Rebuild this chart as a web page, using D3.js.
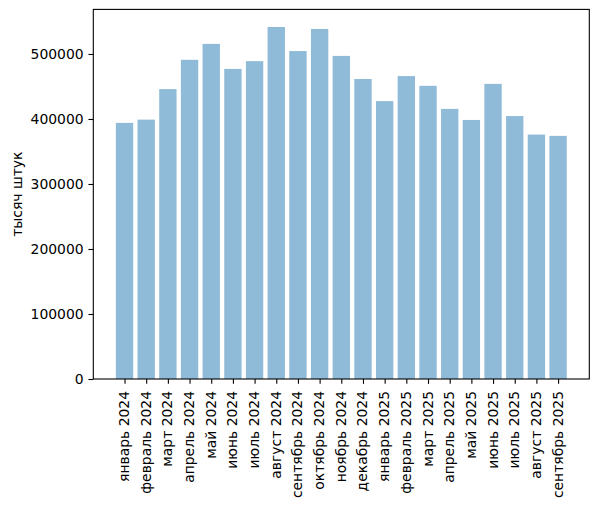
<!DOCTYPE html>
<html>
<head>
<meta charset="utf-8">
<script src="https://cdn.jsdelivr.net/npm/d3@7"></script>
<style>
  html, body { margin: 0; padding: 0; background: #fff; }
  svg { display: block; }
  svg text { font-family: "DejaVu Sans", sans-serif; }
</style>
</head>
<body>
<svg id="chart" width="598" height="506"></svg>
<script>
const categories = [
  "январь 2024", "февраль 2024", "март 2024", "апрель 2024", "май 2024",
  "июнь 2024", "июль 2024", "август 2024", "сентябрь 2024", "октябрь 2024",
  "ноябрь 2024", "декабрь 2024", "январь 2025", "февраль 2025", "март 2025",
  "апрель 2025", "май 2025", "июнь 2025", "июль 2025", "август 2025", "сентябрь 2025"
];
const values = [
  394000, 399000, 446000, 491000, 515500,
  477000, 489000, 541500, 504500, 538500,
  497000, 461500, 427500, 466000, 451000,
  415500, 398500, 454000, 404500, 376000, 374000
];
const yTicks = [0, 100000, 200000, 300000, 400000, 500000];
const yLabel = "тысяч штук";

(function () {
const svg = d3.select("#chart");
const mL = 93.3, mR = 589.3, mT = 9.4, mB = 379;
const n = categories.length;
const barW = 0.8;
const span = (n - 1) + barW;
const x = d3.scaleLinear()
  .domain([-barW / 2 - 0.05 * span, (n - 1) + barW / 2 + 0.05 * span])
  .range([mL, mR]);
const y = d3.scaleLinear()
  .domain([0, d3.max(values) * 1.05])
  .range([mB, mT]);

// bars
svg.append("g").selectAll("rect")
  .data(values)
  .join("rect")
  .attr("x", (d, i) => x(i - barW / 2))
  .attr("width", (d, i) => x(i + barW / 2) - x(i - barW / 2))
  .attr("y", d => y(d))
  .attr("height", d => y(0) - y(d))
  .attr("fill", "#1f77b4")
  .attr("fill-opacity", 0.5);

// x axis
const xAxis = d3.axisBottom(x)
  .tickValues(d3.range(n))
  .tickFormat(i => categories[i])
  .tickSize(4.86)
  .tickPadding(4.86);
const gx = svg.append("g")
  .attr("transform", `translate(0,${mB})`)
  .call(xAxis);
gx.attr("font-family", null).attr("font-size", null);
gx.select(".domain").remove();
gx.selectAll(".tick line").attr("stroke", "#000").attr("stroke-width", 1.1);
gx.selectAll(".tick text")
  .attr("fill", "#000")
  .style("font-size", "13.9px")
  .style("font-family", "'DejaVu Sans', sans-serif")
  .attr("text-anchor", "end")
  .attr("dy", null)
  .attr("dominant-baseline", "central")
  .attr("transform", "translate(-1,12) rotate(-90)")
  .attr("x", 0)
  .attr("y", 0);

// y axis
const yAxis = d3.axisLeft(y)
  .tickValues(yTicks)
  .tickFormat(d3.format("d"))
  .tickSize(4.86)
  .tickPadding(4.86);
const gy = svg.append("g")
  .attr("transform", `translate(${mL},0)`)
  .call(yAxis);
gy.attr("font-family", null).attr("font-size", null);
gy.select(".domain").remove();
gy.selectAll(".tick line").attr("stroke", "#000").attr("stroke-width", 1.1);
gy.selectAll(".tick text")
  .attr("fill", "#000")
  .style("font-size", "13.9px")
  .style("font-family", "'DejaVu Sans', sans-serif");

// spines
svg.append("rect")
  .attr("x", mL).attr("y", mT)
  .attr("width", mR - mL).attr("height", mB - mT)
  .attr("fill", "none").attr("stroke", "#000").attr("stroke-width", 1.1);

// y label
svg.append("text")
  .attr("transform", `translate(17,${(mT + mB) / 2}) rotate(-90)`)
  .attr("text-anchor", "middle")
  .attr("dominant-baseline", "central")
  .style("font-size", "13.9px")
  .style("font-family", "'DejaVu Sans', sans-serif")
  .attr("fill", "#000")
  .text(yLabel);
})();
</script>
</body>
</html>
